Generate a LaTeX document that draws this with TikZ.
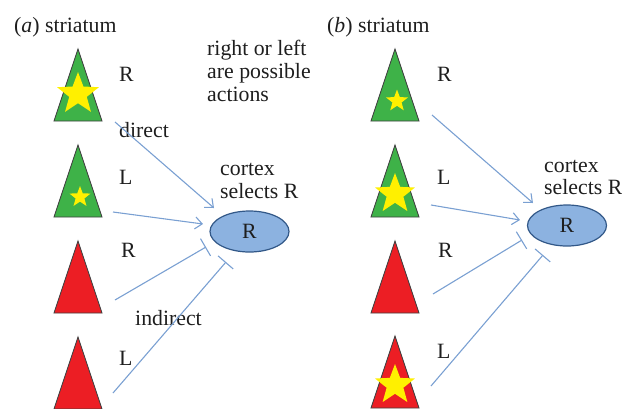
\documentclass[tikz,border=0pt]{standalone}
\usepackage{fontspec}
\setmainfont{Liberation Serif}
\usetikzlibrary{arrows.meta,shapes.geometric}
\definecolor{trigreen}{RGB}{62,178,72}
\definecolor{trired}{RGB}{236,30,36}
\definecolor{staryellow}{RGB}{255,240,0}
\definecolor{linkblue}{RGB}{122,160,210}
\definecolor{cortexfill}{RGB}{140,178,224}
\definecolor{cortexdraw}{RGB}{50,88,136}
\definecolor{txt}{RGB}{30,30,30}
\newcommand\drawstar[3]{%
  \fill[staryellow] ({#1+#3*cos(90)},{#2-#3*sin(90)})
  \foreach \k in {0,...,4}{
    -- ({#1+0.42*#3*cos(90+72*\k+36)},{#2-0.42*#3*sin(90+72*\k+36)})
    -- ({#1+#3*cos(90+72*\k+72)},{#2-#3*sin(90+72*\k+72)})
  } -- cycle;}
\newcommand\drawtri[4]{%
  \filldraw[fill=#4, draw=black!75, line width=0.8pt] (#1,#2) -- (#1-24,#3) -- (#1+24,#3) -- cycle;}
\begin{document}
\begin{tikzpicture}[x=1pt,y=-1pt,
  lbl/.style={inner sep=0pt, anchor=base west, text=txt, font=\fontsize{21.8}{23}\selectfont},
  cortexnode/.style={ellipse, draw=cortexdraw, fill=cortexfill, line width=1.2pt, minimum width=79pt, minimum height=41pt, inner sep=0pt, text=txt, font=\fontsize{21.8}{23}\selectfont},
  excite/.style={draw=linkblue, line width=1.1pt, -{Straight Barb[length=7pt,width=12pt,line width=1.1pt]}},
  inhibit/.style={draw=linkblue, line width=1.1pt, -{Bar[width=20pt,line width=1.1pt]}}]
\useasboundingbox (0,0) rectangle (622,408);
% ---------- panel (a)
\drawtri{78}{49}{121}{trigreen}
\drawstar{78}{94}{22}
\drawtri{78}{145}{217}{trigreen}
\drawstar{80}{197}{11}
\drawtri{78}{241}{313}{trired}
\drawtri{78}{337}{409}{trired}

\node[lbl] (ta) at (14,32) {(\textit{a}) striatum};
\node[lbl] (a1) at (119,81) {R};
\node[lbl] (a2) at (119,184) {L};
\node[lbl] (a3) at (121,257) {R};
\node[lbl] (a4) at (119,365) {L};
\node[lbl] (dir) at (119,137) {direct};
\node[lbl] (ind) at (135,325) {indirect};
\node[lbl] (pos1) at (207,55) {right or left};
\node[lbl] (pos2) at (207,78) {are possible};
\node[lbl] (pos3) at (207,101) {actions};
\node[lbl] (ca1) at (220,175) {cortex};
\node[lbl] (ca2) at (220,198) {selects R};
\node[cortexnode] (ea) at (249.5,231.5) {R};

\coordinate (sa1) at (115,122);
\coordinate (sa2) at (113,212);
\coordinate (sa3) at (115,300);
\coordinate (sa4) at (113,393);
\coordinate (ea1) at (214,208);
\coordinate (ea2) at (203,224);
\coordinate (ea3) at (206,247);
\coordinate (ea4) at (226,262);
\draw[excite] (sa1) -- (ea1);
\draw[excite] (sa2) -- (ea2);
\draw[inhibit] (sa3) -- (ea3);
\draw[inhibit] (sa4) -- (ea4);

% ---------- panel (b)
\drawtri{395}{49}{121}{trigreen}
\drawstar{397}{101}{11.5}
\drawtri{395}{145}{217}{trigreen}
\drawstar{395}{194}{21}
\drawtri{395}{241}{313}{trired}
\drawtri{395}{336}{408}{trired}
\drawstar{395}{385}{21}

\node[lbl] (tb) at (327,32) {(\textit{b}) striatum};
\node[lbl] (b1) at (437,81) {R};
\node[lbl] (b2) at (437,184) {L};
\node[lbl] (b3) at (438,257) {R};
\node[lbl] (b4) at (437,358) {L};
\node[lbl] (cb1) at (544,172) {cortex};
\node[lbl] (cb2) at (544,194) {selects R};
\node[cortexnode] (eb) at (567,225.5) {R};

\coordinate (sb1) at (432,115);
\coordinate (sb2) at (431,205);
\coordinate (sb3) at (433,294);
\coordinate (sb4) at (431,386);
\coordinate (eb1) at (533,203);
\coordinate (eb2) at (520,220);
\coordinate (eb3) at (522,240);
\coordinate (eb4) at (543,255);
\draw[excite] (sb1) -- (eb1);
\draw[excite] (sb2) -- (eb2);
\draw[inhibit] (sb3) -- (eb3);
\draw[inhibit] (sb4) -- (eb4);
\end{tikzpicture}
\end{document}
